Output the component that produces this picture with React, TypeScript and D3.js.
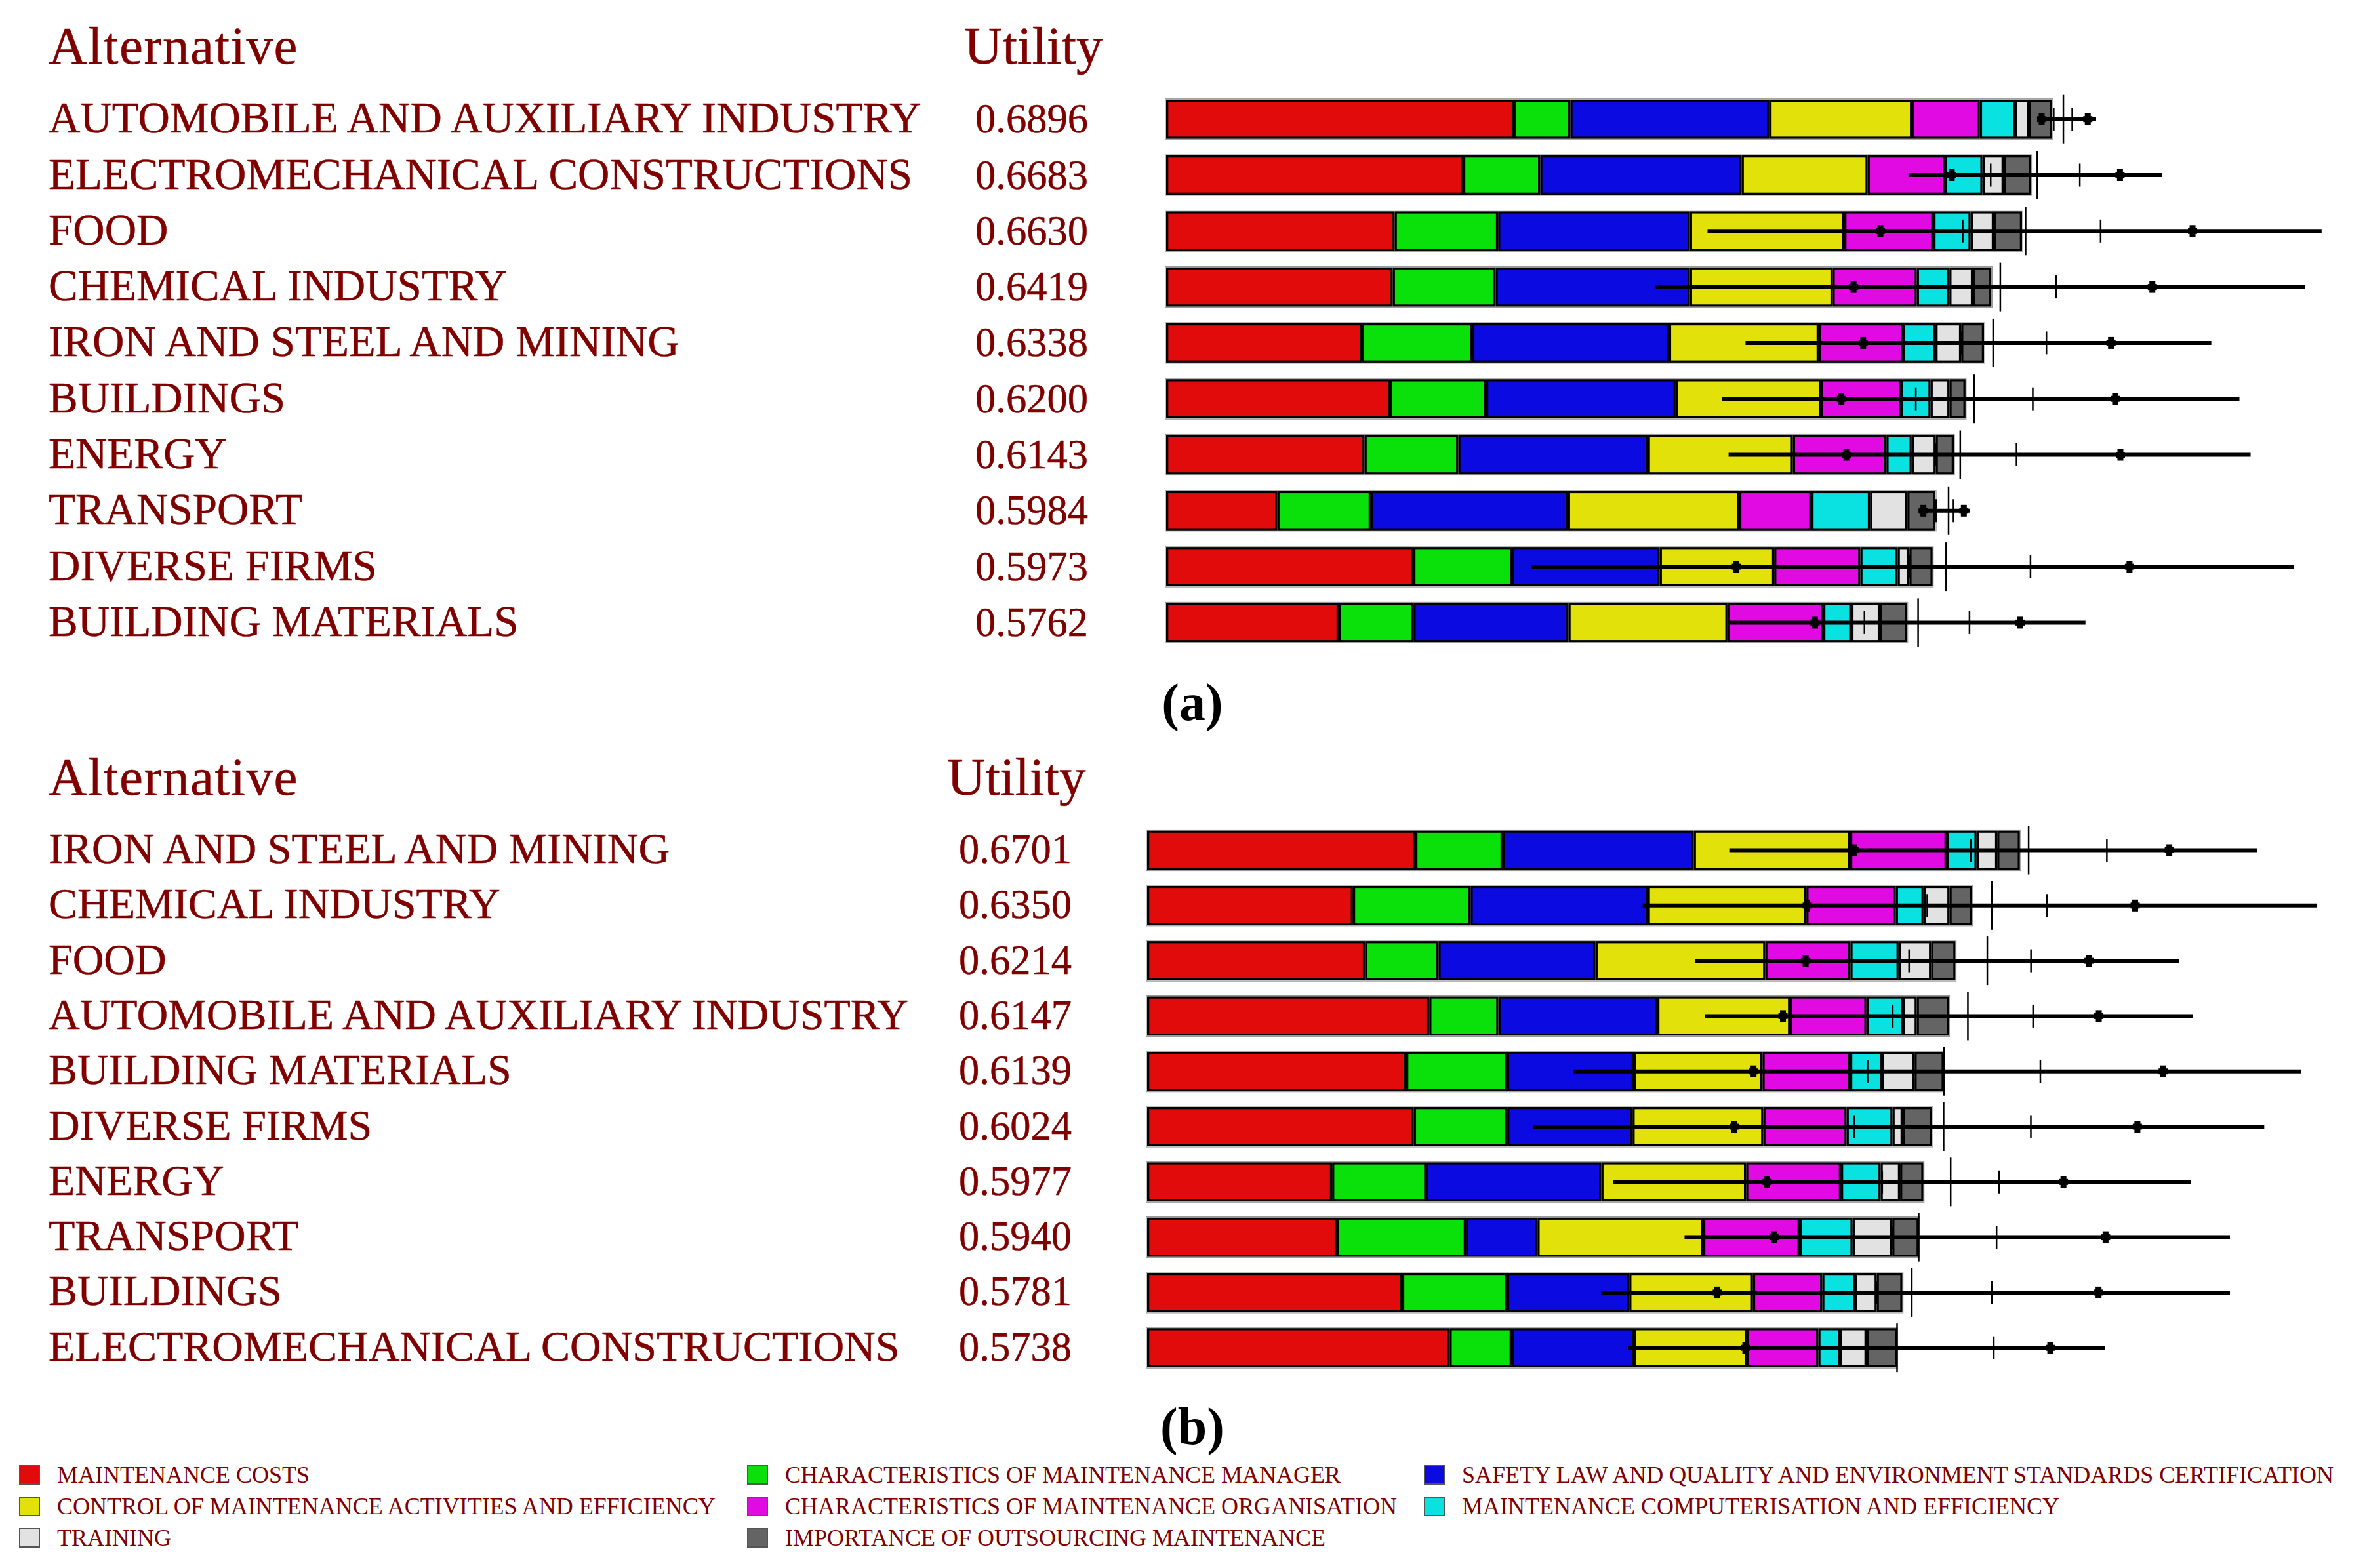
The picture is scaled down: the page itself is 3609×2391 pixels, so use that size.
import React from 'react';
import * as d3 from 'd3';

const CRITERIA = [
  'MAINTENANCE COSTS',
  'CHARACTERISTICS OF MAINTENANCE MANAGER',
  'SAFETY LAW AND QUALITY AND ENVIRONMENT STANDARDS CERTIFICATION',
  'CONTROL OF MAINTENANCE ACTIVITIES AND EFFICIENCY',
  'CHARACTERISTICS OF MAINTENANCE ORGANISATION',
  'MAINTENANCE COMPUTERISATION AND EFFICIENCY',
  'TRAINING',
  'IMPORTANCE OF OUTSOURCING MAINTENANCE',
];
const COLORS = ['#e10b0b', '#0ae10a', '#0a0ae1', '#e2e20a', '#e20ae2', '#0ae2e2', '#e2e2e2', '#646464'];

// Panel (a)
const ALTS_A = [
  'AUTOMOBILE AND AUXILIARY INDUSTRY',
  'ELECTROMECHANICAL CONSTRUCTIONS',
  'FOOD',
  'CHEMICAL INDUSTRY',
  'IRON AND STEEL AND MINING',
  'BUILDINGS',
  'ENERGY',
  'TRANSPORT',
  'DIVERSE FIRMS',
  'BUILDING MATERIALS',
];
const UTIL_A = ['0.6896', '0.6683', '0.6630', '0.6419', '0.6338', '0.6200', '0.6143', '0.5984', '0.5973', '0.5762'];
const CONTRIB_A = [
  [0.2708, 0.0440, 0.1550, 0.1111, 0.0528, 0.0275, 0.0106, 0.0181],
  [0.2313, 0.0600, 0.1569, 0.0981, 0.0603, 0.0291, 0.0165, 0.0212],
  [0.1780, 0.0805, 0.1494, 0.1202, 0.0694, 0.0290, 0.0181, 0.0219],
  [0.1765, 0.0801, 0.1513, 0.1111, 0.0656, 0.0253, 0.0184, 0.0144],
  [0.1524, 0.0860, 0.1532, 0.1166, 0.0656, 0.0253, 0.0200, 0.0178],
  [0.1743, 0.0749, 0.1476, 0.1132, 0.0622, 0.0231, 0.0147, 0.0125],
  [0.1545, 0.0730, 0.1476, 0.1130, 0.0728, 0.0197, 0.0187, 0.0141],
  [0.0867, 0.0727, 0.1535, 0.1334, 0.0562, 0.0456, 0.0291, 0.0219],
  [0.1925, 0.0768, 0.1151, 0.0891, 0.0671, 0.0291, 0.0091, 0.0181],
  [0.1344, 0.0582, 0.1207, 0.1238, 0.0746, 0.0219, 0.0222, 0.0212],
];
const MIN_A = [0.6790, 0.5781, 0.4216, 0.3813, 0.4512, 0.4327, 0.4380, 0.5859, 0.2848, 0.4380];
const MAX_A = [0.7242, 0.7758, 0.8998, 0.8870, 0.8139, 0.8358, 0.8445, 0.6259, 0.8780, 0.7159];
const DOTLO_A = [0.6818, 0.6118, 0.5562, 0.5353, 0.5428, 0.5259, 0.5297, 0.5897, 0.4441, 0.5053];
const DOTHI_A = [0.7177, 0.7428, 0.7993, 0.7680, 0.7358, 0.7390, 0.7431, 0.6212, 0.7502, 0.6650];
const TICKLO_A = [0.6912, 0.6421, 0.6203, 0.6284, 0.6190, 0.5838, 0.5993, 0.5996, 0.5787, 0.5438];
const TICKHI_A = [0.7056, 0.7115, 0.7277, 0.6931, 0.6855, 0.6749, 0.6622, 0.6131, 0.6731, 0.6256];
const MARK_A = [0.6987, 0.6784, 0.6693, 0.6496, 0.6440, 0.6293, 0.6184, 0.6093, 0.6074, 0.5856];

// Panel (b)
const ALTS_B = [
  'IRON AND STEEL AND MINING',
  'CHEMICAL INDUSTRY',
  'FOOD',
  'AUTOMOBILE AND AUXILIARY INDUSTRY',
  'BUILDING MATERIALS',
  'DIVERSE FIRMS',
  'ENERGY',
  'TRANSPORT',
  'BUILDINGS',
  'ELECTROMECHANICAL CONSTRUCTIONS',
];
const UTIL_B = ['0.6701', '0.6350', '0.6214', '0.6147', '0.6139', '0.6024', '0.5977', '0.5940', '0.5781', '0.5738'];
const CONTRIB_B = [
  [0.2057, 0.0670, 0.1466, 0.1199, 0.0740, 0.0230, 0.0158, 0.0174],
  [0.1579, 0.0902, 0.1359, 0.1216, 0.0687, 0.0212, 0.0199, 0.0171],
  [0.1671, 0.0564, 0.1204, 0.1302, 0.0653, 0.0370, 0.0249, 0.0187],
  [0.2164, 0.0530, 0.1219, 0.1019, 0.0585, 0.0280, 0.0106, 0.0246],
  [0.1987, 0.0774, 0.0972, 0.0987, 0.0672, 0.0245, 0.0249, 0.0224],
  [0.2046, 0.0716, 0.0961, 0.1003, 0.0639, 0.0352, 0.0078, 0.0226],
  [0.1419, 0.0722, 0.1343, 0.1110, 0.0728, 0.0304, 0.0149, 0.0179],
  [0.1455, 0.0990, 0.0549, 0.1271, 0.0740, 0.0406, 0.0304, 0.0203],
  [0.1956, 0.0805, 0.0937, 0.0949, 0.0531, 0.0251, 0.0167, 0.0197],
  [0.2320, 0.0477, 0.0937, 0.0865, 0.0549, 0.0167, 0.0203, 0.0233],
];
const MIN_B = [0.4465, 0.3801, 0.4200, 0.4276, 0.3271, 0.2959, 0.3573, 0.4122, 0.3484, 0.3687];
const MAX_B = [0.8514, 0.8974, 0.7914, 0.8020, 0.8850, 0.8568, 0.8007, 0.8305, 0.8305, 0.7345];
const DOTLO_B = [0.5424, 0.5063, 0.5051, 0.4877, 0.4651, 0.4504, 0.4755, 0.4808, 0.4373, 0.4588];
const DOTHI_B = [0.7840, 0.7578, 0.7224, 0.7299, 0.7793, 0.7595, 0.7028, 0.7351, 0.7297, 0.6927];
const TICKLO_B = [0.6319, 0.5983, 0.5844, 0.5719, 0.5526, 0.5423, 0.5638, 0.5715, 0.5596, 0.5304];
const TICKHI_B = [0.7361, 0.6900, 0.6779, 0.6795, 0.6851, 0.6778, 0.6533, 0.6515, 0.6480, 0.6494];
const MARK_B = [0.6761, 0.6478, 0.6444, 0.6295, 0.6113, 0.6109, 0.6163, 0.5918, 0.5865, 0.5752];

const W = 3609;
const H = 2391;
const TEXT = '#800000';
const SERIF = "'Liberation Serif', 'Times New Roman', serif";

type PanelCfg = {
  alts: string[];
  util: string[];
  contrib: number[][];
  mn: number[];
  mx: number[];
  dlo: number[];
  dhi: number[];
  tlo: number[];
  thi: number[];
  mark: number[];
  x0: number;
  k: number;
  y0: number;
  pitch: number;
  headerY: number;
  utilHeaderX: number;
  utilX: number;
  labelSize: number;
  baseOff: number;
  tag: string;
  tagY: number;
};

function Panel({ c }: { c: PanelCfg }) {
  const x = d3.scaleLinear().domain([0, 1]).range([c.x0, c.x0 + c.k]);
  const y = d3.scalePoint<string>().domain(c.alts).range([c.y0, c.y0 + c.pitch * (c.alts.length - 1)]);
  const table = c.alts.map((a, i) => {
    const row: any = { alt: a };
    CRITERIA.forEach((k, j) => (row[k] = c.contrib[i][j]));
    return row;
  });
  const series = d3.stack<any>().keys(CRITERIA)(table);
  const bh = 60;
  const b = 3.3;
  return (
    <g>
      <text x={74} y={c.headerY} fontFamily={SERIF} fontSize={81} fill={TEXT} stroke={TEXT} strokeWidth={0.5} letterSpacing={1.5}>Alternative</text>
      <text x={c.utilHeaderX} y={c.headerY} fontFamily={SERIF} fontSize={81} fill={TEXT} stroke={TEXT} strokeWidth={0.5}>Utility</text>
      {c.alts.map((a, i) => {
        const cy = y(a)!;
        return (
          <g key={a}>
            <text x={74} y={cy + c.baseOff} fontFamily={SERIF} fontSize={c.labelSize} fill={TEXT} stroke={TEXT} strokeWidth={0.5}>{a}</text>
            <text x={c.utilX} y={cy + c.baseOff} fontFamily={SERIF} fontSize={62.5} fill={TEXT} stroke={TEXT} strokeWidth={0.5}>{c.util[i]}</text>
          </g>
        );
      })}
      {series.map((s, j) => (
        <g key={s.key}>
          {s.map((d, i) => {
            const cy = y(c.alts[i])!;
            const xa = x(d[0]);
            const xb = x(d[1]);
            return (
              <g key={i}>
                <rect x={xa} y={cy - bh / 2} width={xb - xa} height={bh} fill="#000" />
                <rect x={xa + b} y={cy - bh / 2 + b} width={Math.max(0, xb - xa - 2 * b)} height={bh - 2 * b} fill={COLORS[j]} />
              </g>
            );
          })}
        </g>
      ))}
      {c.alts.map((a, i) => {
        const cy = y(a)!;
        const end = x(d3.sum(c.contrib[i]));
        return (
          <rect key={'o' + a} x={c.x0 - 1} y={cy - bh / 2 - 1} width={end - c.x0 + 2} height={bh + 2} fill="none" stroke="#999" strokeWidth={1.2} />
        );
      })}
      {c.alts.map((a, i) => {
        const cy = y(a)!;
        const dot = (v: number) => (
          <g>
            <rect x={x(v) - 4.5} y={cy - 9} width={9} height={18} fill="#000" />
            <rect x={x(v) - 7} y={cy - 4.5} width={14} height={9} fill="#000" />
          </g>
        );
        return (
          <g key={'e' + a}>
            <line x1={x(c.mn[i])} x2={x(c.mx[i])} y1={cy} y2={cy} stroke="#000" strokeWidth={6} />
            <line x1={x(c.mark[i])} x2={x(c.mark[i])} y1={cy - 37} y2={cy + 37} stroke="#000" strokeWidth={2.5} />
            <line x1={x(c.tlo[i])} x2={x(c.tlo[i])} y1={cy - 17.5} y2={cy + 17.5} stroke="#000" strokeWidth={2.5} />
            <line x1={x(c.thi[i])} x2={x(c.thi[i])} y1={cy - 17.5} y2={cy + 17.5} stroke="#000" strokeWidth={2.5} />
            {dot(c.dlo[i])}
            {dot(c.dhi[i])}
          </g>
        );
      })}
      <text x={1818} y={c.tagY} fontFamily={SERIF} fontSize={80} fontWeight="bold" fill="#000" textAnchor="middle">{c.tag}</text>
    </g>
  );
}

const LEGEND_X = [30, 1140, 2172];
const LEGEND_Y = [2249, 2297, 2345];

export default function App() {
  const cfgA: PanelCfg = {
    alts: ALTS_A, util: UTIL_A, contrib: CONTRIB_A, mn: MIN_A, mx: MAX_A, dlo: DOTLO_A, dhi: DOTHI_A,
    tlo: TICKLO_A, thi: TICKHI_A, mark: MARK_A,
    x0: 1778, k: 1958, y0: 181.7, pitch: 85.3, headerY: 97, utilHeaderX: 1470, utilX: 1487,
    labelSize: 67, baseOff: 20.5, tag: '(a)', tagY: 1098,
  };
  const cfgB: PanelCfg = {
    alts: ALTS_B, util: UTIL_B, contrib: CONTRIB_B, mn: MIN_B, mx: MAX_B, dlo: DOTLO_B, dhi: DOTHI_B,
    tlo: TICKLO_B, thi: TICKHI_B, mark: MARK_B,
    x0: 1749, k: 1988, y0: 1296.5, pitch: 84.3, headerY: 1212, utilHeaderX: 1444, utilX: 1462,
    labelSize: 66, baseOff: 19.5, tag: '(b)', tagY: 2202,
  };
  return (
    <svg width={W} height={H} viewBox={`0 0 ${W} ${H}`} style={{ position: 'absolute', left: 0, top: 0, background: '#fff' }}>
      <rect width={W} height={H} fill="#fff" />
      <Panel c={cfgA} />
      <Panel c={cfgB} />
      {CRITERIA.map((name, i) => {
        const col = i % 3;
        const row = Math.floor(i / 3);
        const lx = LEGEND_X[col];
        const ly = LEGEND_Y[row];
        return (
          <g key={name}>
            <rect x={lx} y={ly - 14} width={30} height={28} fill={COLORS[i]} stroke="#555" strokeWidth={2} />
            <text x={lx + 57} y={ly + 12} fontFamily={SERIF} fontSize={36} fill={TEXT}>{name}</text>
          </g>
        );
      })}
    </svg>
  );
}
